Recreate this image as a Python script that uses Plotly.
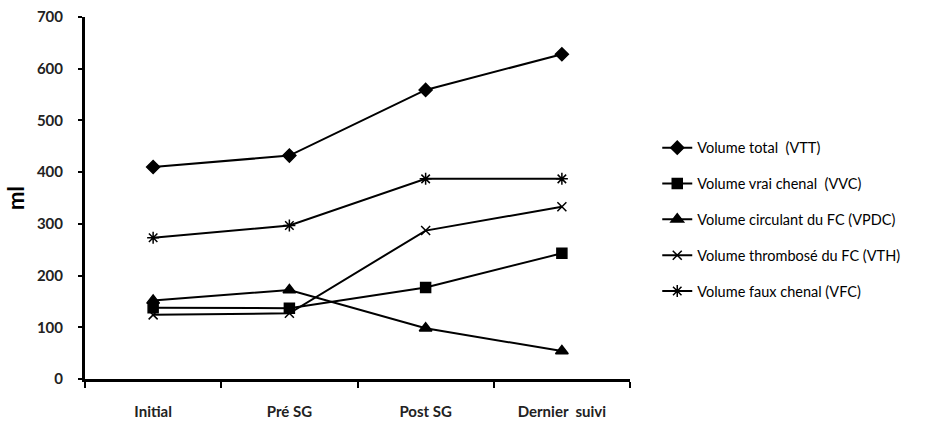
import plotly.graph_objects as go

# Time points and volumes (ml)
stages = ["Initial", "Pré SG", "Post SG", "Dernier  suivi"]
vtt = [410, 432, 559, 628]
vvc = [138, 137, 177, 243]
vpdc = [152, 172, 98, 54]
vth = [124, 127, 287, 333]
vfc = [273, 297, 387, 387]

series = [
    ("Volume total  (VTT)", vtt, "diamond", 10),
    ("Volume vrai chenal  (VVC)", vvc, "square", 10),
    ("Volume circulant du FC (VPDC)", vpdc, "triangle-up", 11),
    ("Volume thrombosé du FC (VTH)", vth, "x-thin-open", 9),
    ("Volume faux chenal (VFC)", vfc, "asterisk-open", 10),
]

fig = go.Figure()
for i, (name, vals, sym, size) in enumerate(series):
    fig.add_trace(go.Scatter(
        x=stages, y=vals, name=name, mode="lines+markers",
        line=dict(color="black", width=2),
        marker=dict(symbol=sym, size=size, color="black",
                    line=dict(color="black", width=1.5)),
        legendgroup=f"g{i}",
    ))

font = "Lato, 'Open Sans', sans-serif"
fig.update_layout(
    width=925, height=423,
    margin=dict(l=85, r=295, t=17, b=44),
    paper_bgcolor="white", plot_bgcolor="white",
    font=dict(family=font, color="black"),
    showlegend=True,
    legend=dict(
        x=1.05, y=0.44, xanchor="left", yanchor="middle",
        font=dict(size=14.5, family=font, color="black"),
        traceorder="grouped", tracegroupgap=14,
        itemwidth=30,
    ),
)
fig.update_xaxes(
    type="category", tickson="boundaries", range=[-0.5, 3.5],
    automargin=False,
    showline=True, linecolor="black", linewidth=3,
    ticks="outside", ticklen=6, tickwidth=2, tickcolor="black",
    ticklabelstandoff=17,
    showgrid=False, zeroline=False,
    tickfont=dict(size=15, family=font, weight="bold", color="#222"),
)
fig.update_yaxes(
    range=[0, 700], tickvals=[0, 100, 200, 300, 400, 500, 600, 700],
    automargin=False,
    showline=True, linecolor="black", linewidth=3,
    ticks="outside", ticklen=4, tickwidth=2, tickcolor="black",
    ticklabelstandoff=12,
    showgrid=False, zeroline=False,
    tickfont=dict(size=15, family=font, weight="bold", color="#222"),
    title=dict(text="ml", font=dict(size=22, family=font, weight="bold"), standoff=7),
)

fig.write_html("out.html")
